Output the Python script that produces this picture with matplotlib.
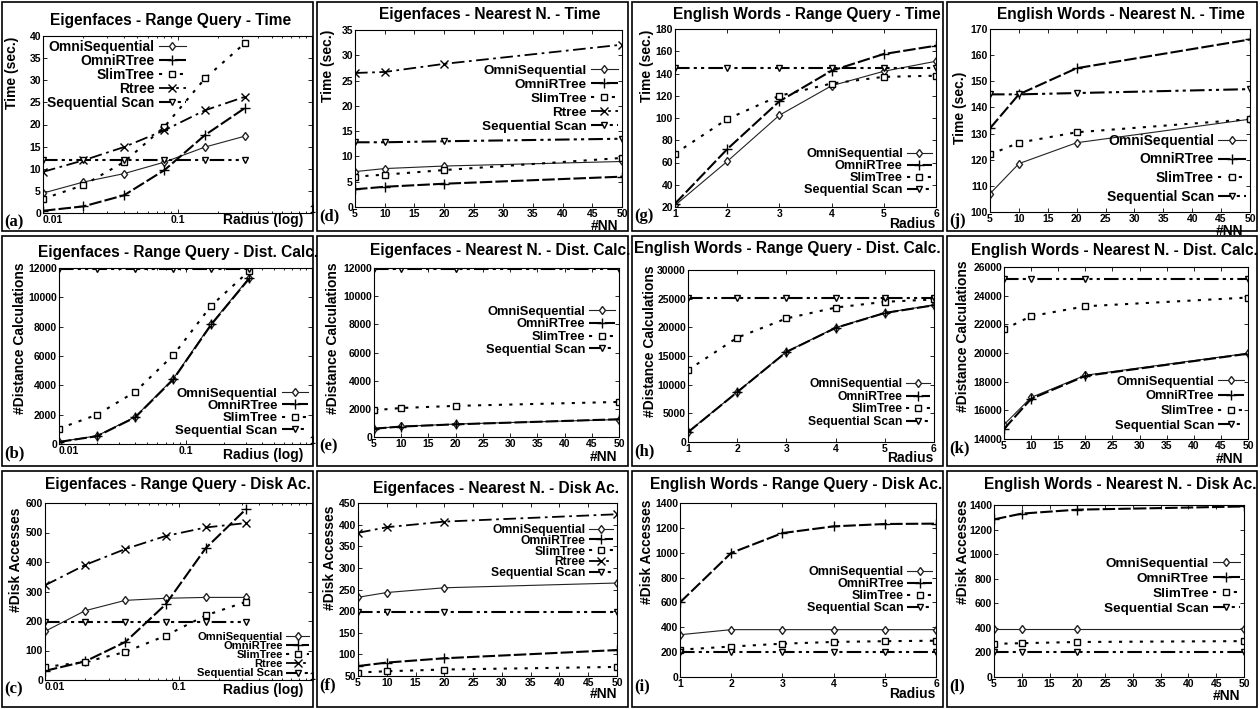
import matplotlib
matplotlib.use("Agg")
import matplotlib.pyplot as plt
from matplotlib.patches import Rectangle
from matplotlib.ticker import FixedLocator, NullFormatter

plt.rcParams['font.family'] = ['Liberation Sans', 'DejaVu Sans']
plt.rcParams['font.weight'] = 'bold'

# x values
radius_eig = [0.01, 0.02, 0.04, 0.08, 0.16, 0.32]
nn = [5, 10, 20, 50]
radius_eng = [1, 2, 3, 4, 5, 6]

names = ["OmniSequential", "OmniRTree", "SlimTree", "Rtree", "Sequential Scan"]

# (a) Eigenfaces - Range Query - Time
a_omniseq = [4.5, 7.0, 8.9, 11.5, 14.9, 17.4]
a_omnirtree = [0.5, 1.5, 4.0, 9.7, 17.6, 23.8]
a_slimtree = [3.2, 6.3, 11.5, 19.5, 30.4, 38.5]
a_rtree = [9.3, 11.9, 14.9, 18.7, 23.2, 26.3]
a_seqscan = [12.0, 12.0, 12.0, 12.0, 12.0, 12.0]

# (b) Eigenfaces - Range Query - Dist. Calc.
b_omniseq = [150, 560, 1850, 4450, 8200, 11350]
b_omnirtree = [140, 535, 1814, 4400, 8150, 11300]
b_slimtree = [1050, 2000, 3560, 6050, 9440, 11810]
b_seqscan = [11900, 11900, 11900, 11900, 11900, 11900]

# (c) Eigenfaces - Range Query - Disk Ac.
c_omniseq = [165, 235, 270, 277, 280, 280]
c_omnirtree = [31, 63, 129, 256, 447, 579]
c_slimtree = [44, 61, 95, 150, 219, 265]
c_rtree = [321, 390, 444, 488, 517, 532]
c_seqscan = [197, 197, 197, 197, 197, 197]

# (d) Eigenfaces - Nearest N. - Time
d_omniseq = [7.0, 7.6, 8.1, 9.0]
d_omnirtree = [3.5, 4.0, 4.6, 6.0]
d_slimtree = [6.0, 6.4, 7.3, 9.7]
d_rtree = [26.5, 26.7, 28.3, 32.1]
d_seqscan = [12.8, 12.8, 13.0, 13.5]

# (e) Eigenfaces - Nearest N. - Dist. Calc.
e_omniseq = [600, 750, 920, 1240]
e_omnirtree = [590, 740, 900, 1260]
e_slimtree = [1900, 2060, 2210, 2490]
e_seqscan = [11900, 11900, 11900, 11900]

# (f) Eigenfaces - Nearest N. - Disk Ac.
f_omniseq = [232, 243, 254, 265]
f_omnirtree = [73, 81, 91, 110]
f_slimtree = [58, 61, 65, 71]
f_rtree = [381, 394, 407, 424]
f_seqscan = [198, 198, 198, 198]

# (g) English Words - Range Query - Time
g_omniseq = [21.5, 61, 102.5, 129, 142, 151]
g_omnirtree = [23, 72, 115, 142.5, 157.5, 165]
g_slimtree = [68, 99, 120, 131, 137, 138]
g_seqscan = [145, 145, 145, 145, 145, 145]

# (h) English Words - Range Query - Dist. Calc.
h_omniseq = [1750, 8740, 15750, 19950, 22550, 23900]
h_omnirtree = [1700, 8700, 15700, 19900, 22500, 23850]
h_slimtree = [12550, 18200, 21550, 23450, 24450, 24870]
h_seqscan = [25050, 25050, 25050, 25050, 25050, 25050]

# (i) English Words - Range Query - Disk Ac.
i_omniseq = [340, 381, 381, 381, 381, 381]
i_omnirtree = [600, 998, 1158, 1212, 1231, 1234]
i_slimtree = [220, 245, 268, 282, 288, 292]
i_seqscan = [200, 200, 200, 200, 200, 200]

# (j) English Words - Nearest N. - Time
j_omniseq = [107, 118.5, 126.5, 135.5]
j_omnirtree = [132, 145, 155, 166]
j_slimtree = [122, 126.5, 130.5, 135.5]
j_seqscan = [145, 145, 145.5, 147]

# (k) English Words - Nearest N. - Dist. Calc.
k_omniseq = [15000, 16900, 18450, 19980]
k_omnirtree = [14700, 16800, 18400, 19950]
k_slimtree = [21650, 22570, 23260, 23870]
k_seqscan = [25170, 25170, 25170, 25170]

# (l) English Words - Nearest N. - Disk Ac.
l_omniseq = [388, 388, 388, 388]
l_omnirtree = [1283, 1330, 1362, 1388]
l_slimtree = [270, 275, 285, 292]
l_seqscan = [204, 204, 204, 204]

# line style per method
styles = {
    "OmniSequential": dict(color="#222222", lw=0.8, ls="-", marker="d", ms=4.5, mfc="white"),
    "OmniRTree": dict(color="black", lw=1.5, dashes=(6, 1.5), marker="+", ms=7, mew=1.0),
    "SlimTree": dict(color="black", lw=1.5, dashes=(1.5, 3.5), marker="s", ms=5, mfc="white"),
    "Rtree": dict(color="black", lw=1.3, dashes=(7, 2.5, 1.5, 2.5), marker="x", ms=5.5),
    "Sequential Scan": dict(color="black", lw=1.5, dashes=(7, 2, 1.5, 2, 1.5, 2), marker="v", ms=5, mfc="white"),
}

W, H = 1260, 709
fig = plt.figure(figsize=(12.6, 7.09), dpi=100)


def px_rect(l, t, r, b):
    return [l / W, 1 - b / H, (r - l) / W, (b - t) / H]


# panel frames
cols = [(2, 313), (317, 628), (632, 943), (947, 1257)]
rows = [(2, 231), (236, 466), (471, 707)]
for (x0, x1) in cols:
    for (y0, y1) in rows:
        fig.patches.append(Rectangle((x0 / W, 1 - y1 / H), (x1 - x0) / W, (y1 - y0) / H,
                                     transform=fig.transFigure, fill=False, lw=1.2,
                                     edgecolor="black"))

panels = [
    dict(tag="(a)", title="Eigenfaces - Range Query - Time", ax=(43, 36, 312, 213), tx=171, ty=20,
         ylab="Time (sec.)", ylx=12, ylt=37, xlab="Radius (log)", xlr=303, xly=220,
         x=radius_eig, ys=[a_omniseq, a_omnirtree, a_slimtree, a_rtree, a_seqscan],
         ylim=(0, 40), ystep=5, kind="log", fs=10, ls=0.0,
         leg=dict(loc="upper left", bbox_to_anchor=(0.0, 1.0))),
    dict(tag="(b)", title="Eigenfaces - Range Query - Dist. Calc.", ax=(59, 268, 312, 444), tx=178, ty=252,
         ylab="#Distance Calculations", ylx=20, ylt=262, xlab="Radius (log)", xlr=303, xly=455,
         x=radius_eig, ys=[b_omniseq, b_omnirtree, b_slimtree, None, b_seqscan],
         ylim=(0, 12000), ystep=2000, kind="log", fs=9.5, ls=0.0,
         leg=dict(loc="lower right", bbox_to_anchor=(1.0, 0.02))),
    dict(tag="(c)", title="Eigenfaces - Range Query - Disk Ac.", ax=(45, 503, 312, 680), tx=178, ty=485,
         ylab="#Disk Accesses", ylx=16, ylt=507, xlab="Radius (log)", xlr=303, xly=690,
         x=radius_eig, ys=[c_omniseq, c_omnirtree, c_slimtree, c_rtree, c_seqscan],
         ylim=(0, 600), ystep=100, kind="log", fs=8, ls=-0.08,
         leg=dict(loc="lower right", bbox_to_anchor=(1.0, -0.01))),
    dict(tag="(d)", title="Eigenfaces - Nearest N. - Time", ax=(355, 30, 622, 207), tx=490, ty=15,
         ylab="Time (sec.)", ylx=328, ylt=30, xlab="#NN", xlr=618, xly=226,
         x=nn, ys=[d_omniseq, d_omnirtree, d_slimtree, d_rtree, d_seqscan],
         ylim=(0, 35), ystep=5, kind="nn", fs=9.7, ls=0.12,
         leg=dict(loc="upper right", bbox_to_anchor=(1.0, 0.83))),
    dict(tag="(e)", title="Eigenfaces - Nearest N. - Dist. Calc.", ax=(374, 268, 619, 437), tx=500, ty=250,
         ylab="#Distance Calculations", ylx=333, ylt=262, xlab="#NN", xlr=617, xly=457,
         x=nn, ys=[e_omniseq, e_omnirtree, e_slimtree, None, e_seqscan],
         ylim=(0, 12000), ystep=2000, kind="nn", fs=9.3, ls=0.05,
         leg=dict(loc="upper right", bbox_to_anchor=(1.0, 0.8))),
    dict(tag="(f)", title="Eigenfaces - Nearest N. - Disk Ac.", ax=(358, 503, 617, 676), tx=496, ty=488,
         ylab="#Disk Accesses", ylx=330, ylt=505, xlab="#NN", xlr=617, xly=694,
         x=nn, ys=[f_omniseq, f_omnirtree, f_slimtree, f_rtree, f_seqscan],
         ylim=(50, 450), ystep=50, kind="nn", fs=8.7, ls=-0.1,
         leg=dict(loc="upper right", bbox_to_anchor=(1.0, 0.9))),
    dict(tag="(g)", title="English Words - Range Query - Time", ax=(675, 29, 936, 207), tx=807, ty=15,
         ylab="Time (sec.)", ylx=647, ylt=30, xlab="Radius", xlr=935, xly=224,
         x=radius_eng, ys=[g_omniseq, g_omnirtree, g_slimtree, None, g_seqscan],
         ylim=(20, 180), ystep=20, kind="rad", fs=9.2, ls=0.0,
         leg=dict(loc="lower right", bbox_to_anchor=(1.0, 0.04))),
    dict(tag="(h)", title="English Words - Range Query - Dist. Calc.", ax=(688, 270, 934, 442), tx=787, ty=248,
         ylab="#Distance Calculations", ylx=650, ylt=265, xlab="Radius", xlr=933, xly=458,
         x=radius_eng, ys=[h_omniseq, h_omnirtree, h_slimtree, None, h_seqscan],
         ylim=(0, 30000), ystep=5000, kind="rad", fs=8.7, ls=0.05,
         leg=dict(loc="lower right", bbox_to_anchor=(1.0, 0.06))),
    dict(tag="(i)", title="English Words - Range Query - Disk Ac.", ax=(680, 503, 936, 677), tx=796, ty=485,
         ylab="#Disk Accesses", ylx=647, ylt=500, xlab="Radius", xlr=935, xly=694,
         x=radius_eng, ys=[i_omniseq, i_omnirtree, i_slimtree, None, i_seqscan],
         ylim=(0, 1400), ystep=200, kind="rad", fs=9, ls=0.0,
         leg=dict(loc="upper right", bbox_to_anchor=(1.0, 0.66))),
    dict(tag="(j)", title="English Words - Nearest N. - Time", ax=(990, 29, 1250, 212), tx=1121, ty=15,
         ylab="Time (sec.)", ylx=960, ylt=72, xlab="#NN", xlr=1243, xly=231,
         x=nn, ys=[j_omniseq, j_omnirtree, j_slimtree, None, j_seqscan],
         ylim=(100, 170), ystep=10, kind="nn", fs=10, ls=0.35,
         leg=dict(loc="lower right", bbox_to_anchor=(1.0, 0.02))),
    dict(tag="(k)", title="English Words - Nearest N. - Dist. Calc.", ax=(1004, 267, 1248, 439), tx=1114, ty=250,
         ylab="#Distance Calculations", ylx=963, ylt=260, xlab="#NN", xlr=1243, xly=459,
         x=nn, ys=[k_omniseq, k_omnirtree, k_slimtree, None, k_seqscan],
         ylim=(14000, 26000), ystep=2000, kind="nn", fs=9.3, ls=0.2,
         leg=dict(loc="lower right", bbox_to_anchor=(1.0, 0.02))),
    dict(tag="(l)", title="English Words - Nearest N. - Disk Ac.", ax=(994, 505, 1244, 677), tx=1120, ty=485,
         ylab="#Disk Accesses", ylx=963, ylt=500, xlab="#NN", xlr=1240, xly=696,
         x=nn, ys=[l_omniseq, l_omnirtree, l_slimtree, None, l_seqscan],
         ylim=(0, 1400), ystep=200, kind="nn", fs=9.7, ls=0.2,
         leg=dict(loc="upper right", bbox_to_anchor=(1.0, 0.72))),
]

for p in panels:
    ax = fig.add_axes(px_rect(*p["ax"]))
    for name, y in zip(names, p["ys"]):
        if y is None:
            continue
        ax.plot(p["x"], y, label=name, **styles[name])

    lo, hi = p["ylim"]
    ax.set_ylim(lo, hi)
    ax.set_yticks(list(range(lo, hi + 1, p["ystep"])))
    if p["kind"] == "log":
        ax.set_xscale("log")
        ax.set_xlim(0.01, 1)
        ax.xaxis.set_major_locator(FixedLocator([0.01, 0.1, 1]))
        ax.set_xticklabels(["0.01", "0.1", "1"])
        ax.xaxis.set_minor_formatter(NullFormatter())
    elif p["kind"] == "nn":
        ax.set_xlim(5, 50)
        ax.set_xticks(list(range(5, 51, 5)))
    else:
        ax.set_xlim(1, 6)
        ax.set_xticks(radius_eng)

    ax.tick_params(direction="in", top=True, right=True, length=3, width=0.6,
                   labelsize=7.5, pad=1.5)
    ax.tick_params(which="minor", direction="in", top=True, right=True, length=1.5)
    for lab in ax.get_xticklabels() + ax.get_yticklabels():
        lab.set_fontweight("bold")
    if p["kind"] == "log":
        ax.get_xticklabels()[0].set_horizontalalignment("left")
        ax.get_xticklabels()[-1].set_verticalalignment("bottom")
    for s in ax.spines.values():
        s.set_linewidth(0.8)

    ax.legend(frameon=False, markerfirst=False, labelspacing=p["ls"],
              handlelength=2.0, handletextpad=0.3, borderpad=0.1, borderaxespad=0.2,
              prop=dict(weight="bold", size=p["fs"]), **p["leg"])

    fig.text(p["tx"] / W, 1 - p["ty"] / H, p["title"], ha="center", va="center",
             fontsize=11.2, fontweight="bold")
    fig.text(p["ylx"] / W, 1 - p["ylt"] / H, p["ylab"], rotation=90, ha="center", va="top",
             fontsize=10, fontweight="bold")
    fig.text(p["xlr"] / W, 1 - p["xly"] / H, p["xlab"], ha="right", va="center",
             fontsize=10, fontweight="bold")
    px0 = [c[0] for c in cols if c[0] <= p["ax"][0]][-1]
    fig.text((px0 + 2) / W, 1 - (p["ax"][3] + 9) / H, p["tag"], ha="left", va="center",
             fontsize=12, fontweight="bold", family=["Liberation Serif", "DejaVu Serif"])

fig.savefig("out.png", dpi=100)
